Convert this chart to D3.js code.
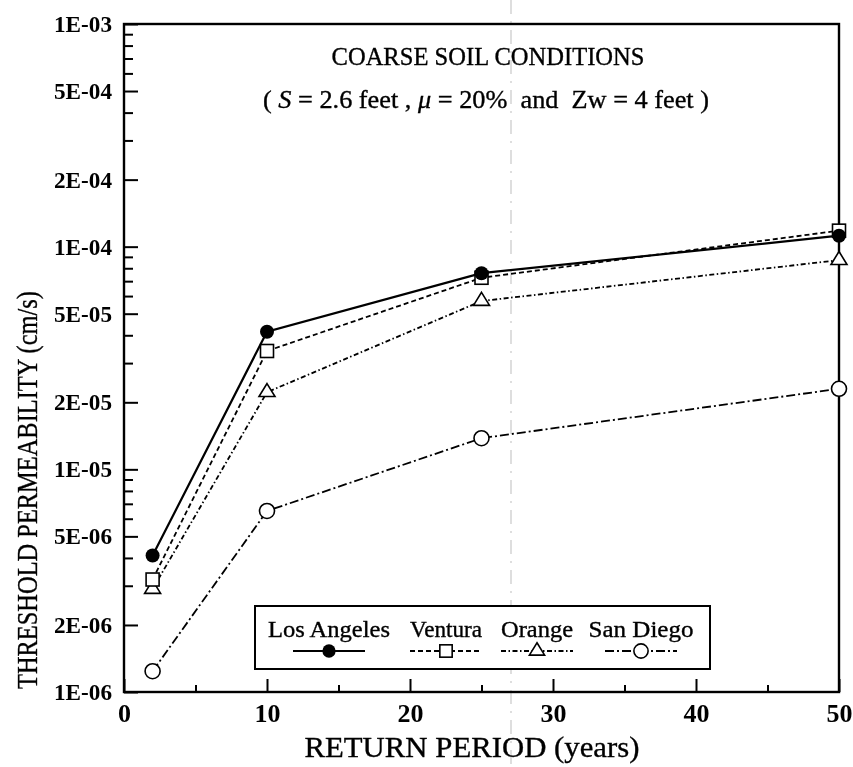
<!DOCTYPE html>
<html>
<head>
<meta charset="utf-8">
<script src="https://cdn.jsdelivr.net/npm/d3@7/dist/d3.min.js"></script>
<style>
  html, body { margin: 0; padding: 0; background: #fff; }
  svg { display: block; will-change: transform; }
  svg text { font-family: "Liberation Serif", "Times New Roman", Times, serif; fill: #000; }
  .heavy { stroke: #000; stroke-width: 0.35px; }
</style>
</head>
<body>
<svg id="chart" width="853" height="767"></svg>
<script>
// Return periods (years) shared by every county series
const returnPeriods = [2, 10, 25, 50];

// Threshold permeability (cm/s) per county
const losAngeles = [4.1e-6, 4.15e-5, 7.6e-5, 1.12e-4];
const ventura    = [3.2e-6, 3.4e-5, 7.25e-5, 1.18e-4];
const orange     = [2.9e-6, 2.22e-5, 5.7e-5, 8.7e-5];
const sanDiego   = [1.24e-6, 6.5e-6, 1.38e-5, 2.3e-5];

const countyNames = ["Los Angeles", "Ventura", "Orange", "San Diego"];

// Axis tick labels
const yTickLabels = ["1E-06", "2E-06", "5E-06", "1E-05", "2E-05", "5E-05",
                     "1E-04", "2E-04", "5E-04", "1E-03"];
const xTickLabels = ["0", "10", "20", "30", "40", "50"];
const xMinorTicks = [5, 15, 25, 35, 45];

const titleText = "COARSE SOIL CONDITIONS";
const xAxisTitle = "RETURN PERIOD (years)";
const yAxisTitle = "THRESHOLD PERMEABILITY (cm/s)";

const svg = d3.select("#chart");
const plot = { left: 124, right: 839, top: 24, bottom: 692 };

const x = d3.scaleLinear().domain([0, 50]).range([plot.left, plot.right]);
const y = d3.scaleLog().domain([1e-6, 1e-3]).range([plot.bottom, plot.top]);

// faint fold crease running down the page
svg.append("line")
  .attr("x1", 511).attr("x2", 511).attr("y1", 0).attr("y2", 767)
  .attr("stroke", "#c8c8c8").attr("stroke-width", 1.2)
  .attr("stroke-dasharray", "14,7,2,7");

// ---- axes ----
const yMajor = yTickLabels.map(Number);
const yMinor = y.ticks(40).filter(v => !yMajor.some(m => Math.abs(m - v) / m < 1e-6));

const axisStyle = g => {
  g.attr("font-family", null).attr("font-size", null);
  g.select(".domain").remove();
  g.selectAll(".tick line").attr("stroke", "#000").attr("stroke-width", 2);
};

svg.append("g")
  .attr("transform", `translate(${plot.left},0)`)
  .call(d3.axisLeft(y).tickValues(yMajor).tickSize(-14).tickPadding(12)
        .tickFormat((d, i) => yTickLabels[i]))
  .call(axisStyle)
  .call(g => g.selectAll(".tick text")
      .style("font-size", "23px").style("font-weight", "bold")
      .attr("textLength", 58).attr("lengthAdjust", "spacingAndGlyphs"));

svg.append("g")
  .attr("transform", `translate(${plot.left},0)`)
  .call(d3.axisLeft(y).tickValues(yMinor).tickSize(-9).tickFormat(""))
  .call(axisStyle);

svg.append("g")
  .attr("transform", `translate(0,${plot.bottom})`)
  .call(d3.axisBottom(x).tickValues(xTickLabels.map(Number)).tickSize(-13).tickPadding(10)
        .tickFormat((d, i) => xTickLabels[i]))
  .call(axisStyle)
  .call(g => g.selectAll(".tick text")
      .style("font-size", "26px").style("font-weight", "bold")
      .attr("dy", "0.75em"));

svg.append("g")
  .attr("transform", `translate(0,${plot.bottom})`)
  .call(d3.axisBottom(x).tickValues(xMinorTicks).tickSize(-7).tickFormat(""))
  .call(axisStyle);

// plot frame
svg.append("rect")
  .attr("x", plot.left).attr("y", plot.top)
  .attr("width", plot.right - plot.left).attr("height", plot.bottom - plot.top)
  .attr("fill", "none").attr("stroke", "#000").attr("stroke-width", 2.4);

// ---- axis titles ----
svg.append("text")
  .attr("class", "heavy")
  .attr("x", 472).attr("y", 757)
  .attr("text-anchor", "middle").style("font-size", "29px")
  .attr("textLength", 335).attr("lengthAdjust", "spacingAndGlyphs")
  .text(xAxisTitle);

svg.append("text")
  .attr("class", "heavy")
  .attr("transform", "translate(37,490) rotate(-90)")
  .attr("text-anchor", "middle").style("font-size", "30px")
  .attr("textLength", 398).attr("lengthAdjust", "spacingAndGlyphs")
  .text(yAxisTitle);

// ---- in-plot title ----
svg.append("text")
  .attr("class", "heavy")
  .attr("x", 488).attr("y", 65)
  .attr("text-anchor", "middle").style("font-size", "25px")
  .attr("textLength", 313).attr("lengthAdjust", "spacingAndGlyphs")
  .text(titleText);

const sub = svg.append("text")
  .attr("class", "heavy")
  .attr("x", 486).attr("y", 108)
  .attr("text-anchor", "middle").style("font-size", "25px")
  .attr("textLength", 446).attr("lengthAdjust", "spacingAndGlyphs")
  .style("white-space", "pre");
sub.append("tspan").text("( ");
sub.append("tspan").style("font-style", "italic").text("S");
sub.append("tspan").text(" = 2.6 feet , ");
sub.append("tspan").style("font-style", "italic").text("\u03bc");
sub.append("tspan").text(" = 20%  and  Zw = 4 feet )");

// ---- series ----
const series = [
  { name: countyNames[0], values: losAngeles, dash: null,            width: 2.2, marker: "filledCircle" },
  { name: countyNames[1], values: ventura,    dash: "5,3",           width: 1.8, marker: "square" },
  { name: countyNames[2], values: orange,     dash: "5,2.5,1.5,2.5", width: 1.8, marker: "triangle" },
  { name: countyNames[3], values: sanDiego,   dash: "9,3,2,3",       width: 1.8, marker: "circle" }
];

function drawMarker(g, type, cx, cy, scale) {
  const s = scale || 1;
  if (type === "filledCircle") {
    g.append("circle").attr("cx", cx).attr("cy", cy).attr("r", 7 * s)
      .attr("fill", "#000");
  } else if (type === "square") {
    const h = 6.5 * s;
    g.append("rect").attr("x", cx - h).attr("y", cy - h)
      .attr("width", 2 * h).attr("height", 2 * h)
      .attr("fill", "#fff").attr("stroke", "#000").attr("stroke-width", 1.6);
  } else if (type === "triangle") {
    const w = 8 * s, ht = 13 * s;
    const p = [[cx, cy - ht * 2 / 3], [cx + w, cy + ht / 3], [cx - w, cy + ht / 3]];
    g.append("path").attr("d", "M" + p.join("L") + "Z")
      .attr("fill", "#fff").attr("stroke", "#000").attr("stroke-width", 1.6);
  } else {
    g.append("circle").attr("cx", cx).attr("cy", cy).attr("r", 7.5 * s)
      .attr("fill", "#fff").attr("stroke", "#000").attr("stroke-width", 1.6);
  }
}

const line = d3.line().x(d => x(d[0])).y(d => y(d[1]));

// draw back to front so Los Angeles sits on top
series.slice().reverse().forEach(s => {
  const pts = returnPeriods.map((p, i) => [p, s.values[i]]);
  const g = svg.append("g");
  g.append("path").attr("d", line(pts))
    .attr("fill", "none").attr("stroke", "#000")
    .attr("stroke-width", s.width)
    .attr("stroke-dasharray", s.dash);
  pts.forEach(d => drawMarker(g, s.marker, x(d[0]), y(d[1])));
});

// ---- legend ----
const legend = svg.append("g");
legend.append("rect")
  .attr("x", 255).attr("y", 606).attr("width", 455).attr("height", 63)
  .attr("fill", "#fff").attr("stroke", "#000").attr("stroke-width", 2);

const legendCenters = [329, 446, 537, 641];
const legendWidths = [122, 72, 72, 105];
const legendHalf = 36;
series.forEach((s, i) => {
  const cx = legendCenters[i];
  legend.append("text")
    .attr("class", "heavy")
    .attr("x", cx).attr("y", 637)
    .attr("text-anchor", "middle").style("font-size", "23px")
    .attr("textLength", legendWidths[i]).attr("lengthAdjust", "spacingAndGlyphs")
    .text(s.name);
  legend.append("line")
    .attr("x1", cx - legendHalf).attr("x2", cx + legendHalf)
    .attr("y1", 651).attr("y2", 651)
    .attr("stroke", "#000").attr("stroke-width", s.width)
    .attr("stroke-dasharray", s.dash);
  drawMarker(legend, s.marker, cx, 651, 0.95);
});
</script>
</body>
</html>
